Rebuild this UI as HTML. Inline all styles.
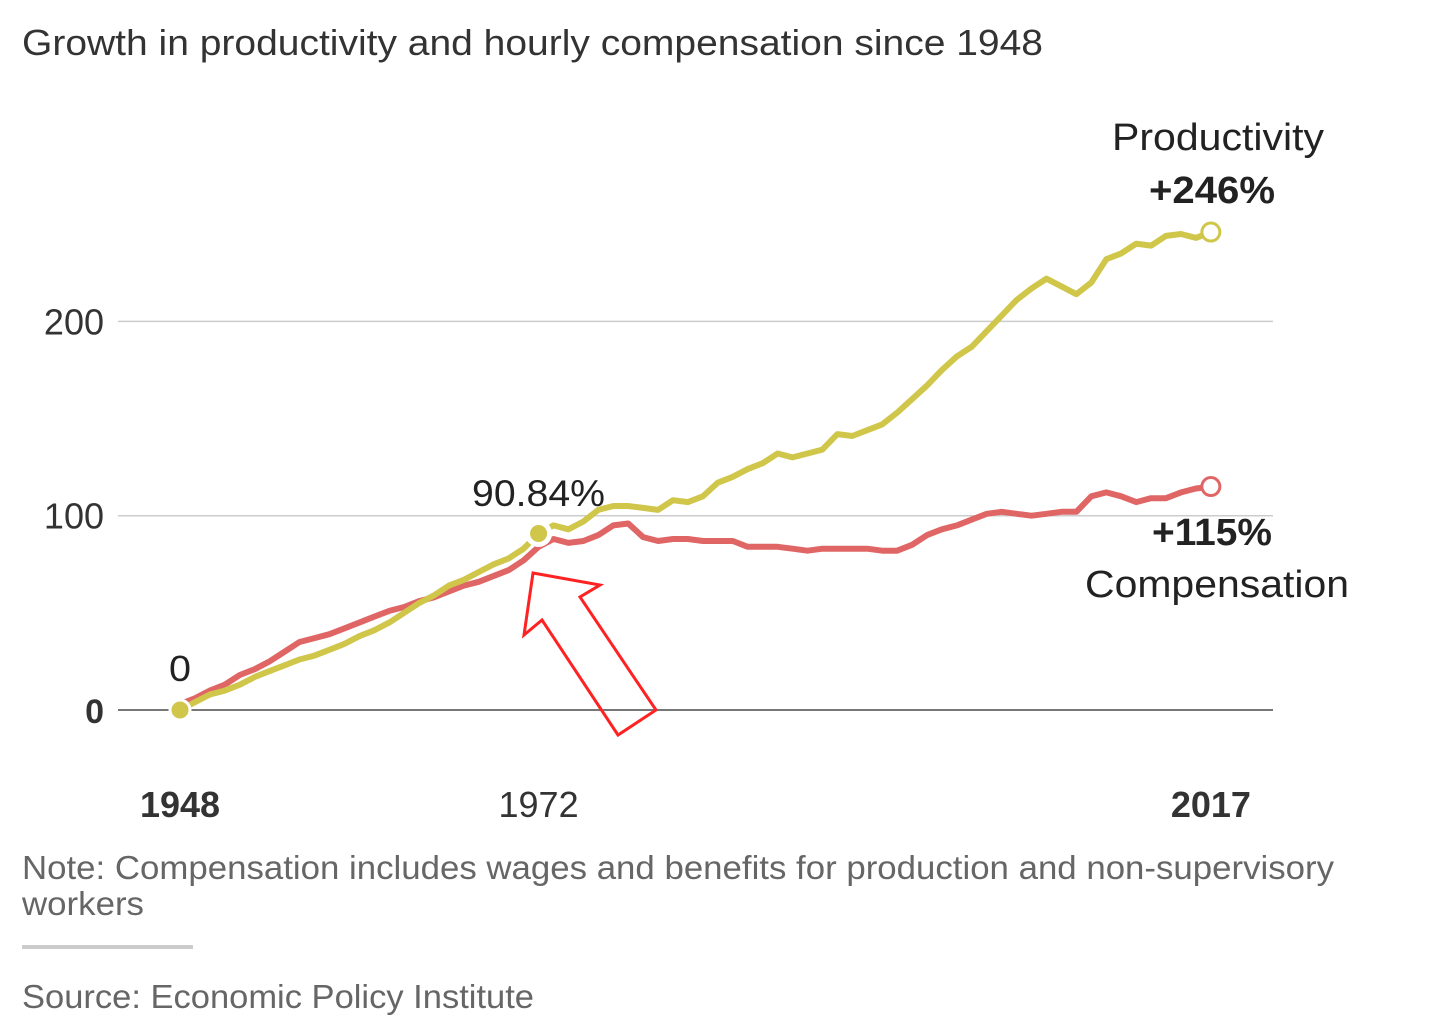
<!DOCTYPE html>
<html><head><meta charset="utf-8"><style>
html,body{margin:0;padding:0;background:#fff;}
svg{display:block;font-family:"Liberation Sans Narrow","Liberation Sans",sans-serif;}
</style></head><body>
<svg id="chart" width="1432" height="1030" viewBox="0 0 1432 1030" xmlns="http://www.w3.org/2000/svg">
<text x="22" y="55" font-size="36" fill="#333" textLength="1021" lengthAdjust="spacingAndGlyphs">Growth in productivity and hourly compensation since 1948</text>
<g id="grid"></g>
<g id="lines"></g>
<g id="labels"></g>
<polygon points="533,573 600,585 580,597 656,710 618,735 542,620 524,635" fill="none" stroke="#f22" stroke-width="3" stroke-linejoin="miter"/>
<text x="22" y="879" font-size="33" fill="#666" textLength="1312" lengthAdjust="spacingAndGlyphs">Note: Compensation includes wages and benefits for production and non-supervisory</text>
<text x="22" y="915" font-size="33" fill="#666" textLength="122" lengthAdjust="spacingAndGlyphs">workers</text>
<rect x="22" y="945" width="171" height="4" fill="#ccc"/>
<text x="22" y="1008" font-size="33" fill="#666" textLength="512" lengthAdjust="spacingAndGlyphs">Source: Economic Policy Institute</text>
</svg>
<script>
const years = [1948,1949,1950,1951,1952,1953,1954,1955,1956,1957,1958,1959,1960,1961,1962,1963,1964,1965,1966,1967,1968,1969,1970,1971,1972,1973,1974,1975,1976,1977,1978,1979,1980,1981,1982,1983,1984,1985,1986,1987,1988,1989,1990,1991,1992,1993,1994,1995,1996,1997,1998,1999,2000,2001,2002,2003,2004,2005,2006,2007,2008,2009,2010,2011,2012,2013,2014,2015,2016,2017];
const productivity = [0,4,8,10,13,17,20,23,26,28,31,34,38,41,45,50,55,59,64,67,71,75,78,83,90.84,95,93,97,103,105,105,104,103,108,107,110,117,120,124,127,132,130,132,134,142,141,144,147,153,160,167,175,182,187,195,203,211,217,222,218,214,220,232,235,240,239,244,245,243,246];
const compensation = [3,6,10,13,18,21,25,30,35,37,39,42,45,48,51,53,56,58,61,64,66,69,72,77,84,88,86,87,90,95,96,89,87,88,88,87,87,87,84,84,84,83,82,83,83,83,83,82,82,85,90,93,95,98,101,102,101,100,101,102,102,110,112,110,107,109,109,112,114,115];
const yTicks = [0,100,200];
const xTickLabels = ["1948","1972","2017"];
const NS="http://www.w3.org/2000/svg";
const x = yr => 180 + (yr-1948)*14.94;
const y = v => 710 - v*1.943;
function mk(tag, parent, attrs){const e=document.createElementNS(NS,tag);for(const k in attrs)e.setAttribute(k,attrs[k]);parent.appendChild(e);return e;}
const grid=document.getElementById('grid'), lines=document.getElementById('lines'), labels=document.getElementById('labels');
yTicks.forEach(t=>{
  const l=mk('line',grid,{x1:118,x2:1273,y1:y(t),y2:y(t),stroke:t===0?'#777':'#ccc','stroke-width':t===0?2:1.5});
  
  
  const tx=mk('text',grid,{x:104,y:y(t)+13,'text-anchor':'end','font-size':t===0?34:36,'font-weight':t===0?'bold':'normal',fill:'#333'});
  tx.textContent=t;
  
  
});
xTickLabels.forEach(s=>{
  const tx=mk('text',grid,{x:x(+s),y:817,'text-anchor':'middle','font-size':36,'font-weight':s==='1972'?'normal':'bold',fill:'#333'});
  tx.textContent=s;
  
  
});
function path(vals,color,name){
  const d=vals.map((v,i)=>(i?'L':'M')+x(years[i]).toFixed(1)+','+y(v).toFixed(1)).join('');
  const p=mk('path',lines,{d:d,fill:'none',stroke:color,'stroke-width':6,'stroke-linejoin':'round','stroke-linecap':'round'});
  
  
}
path(compensation,'#e06666','compensation-line');
path(productivity,'#cfc64a','productivity-line');
const i72=years.indexOf(1972), last=years.length-1;
let c=mk('circle',lines,{cx:x(1948),cy:y(productivity[0]),r:10,fill:'#cfc64a',stroke:'#fff','stroke-width':3});


c=mk('circle',lines,{cx:x(1972),cy:y(productivity[i72]),r:11,fill:'#cfc64a',stroke:'#fff','stroke-width':5});


c=mk('circle',lines,{cx:x(2017),cy:y(productivity[last]),r:9,fill:'#fff',stroke:'#cfc64a','stroke-width':3});


c=mk('circle',lines,{cx:x(2017),cy:y(compensation[last]),r:9,fill:'#fff',stroke:'#e06666','stroke-width':3});


function lab(txt,xx,yy,size,bold,name,len){
  const t=mk('text',labels,{x:xx,y:yy,'font-size':size,'font-weight':bold?'bold':'normal',fill:'#222','text-anchor':'middle',textLength:len,lengthAdjust:'spacingAndGlyphs'});
  t.textContent=txt;
  
  
}
lab('0',x(1948),681,36,false,'start-value-label',22);
lab(productivity[i72]+'%',x(1972),506,37,false,'1972-value-label',133);
lab('Productivity',1218,150,38,false,'productivity-label',212);
lab('+'+Math.round(productivity[last])+'%',1212,203,38,true,'productivity-change-label',126);
lab('+'+Math.round(compensation[last])+'%',1212,545,38,true,'compensation-change-label',120);
lab('Compensation',1217,597,38,false,'compensation-label',264);
</script>
</body></html>
